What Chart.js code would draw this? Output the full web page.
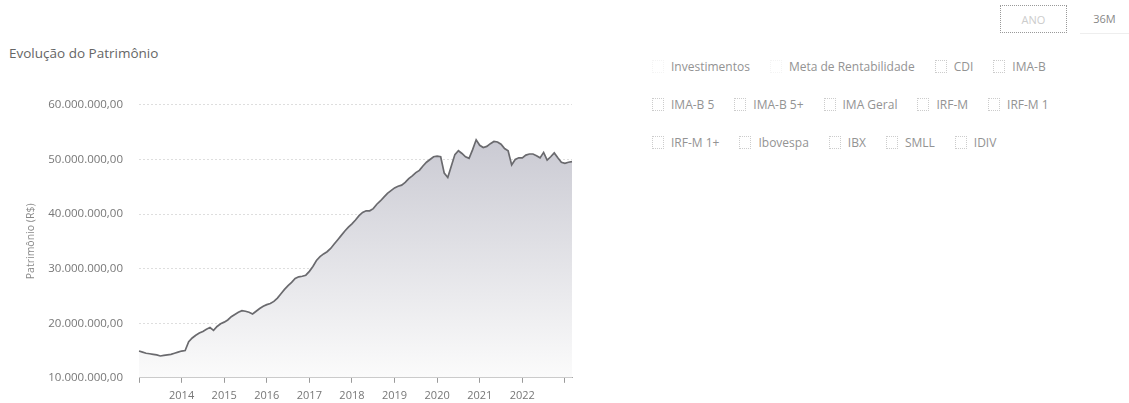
<!DOCTYPE html>
<html lang="pt-BR">
<head>
<meta charset="utf-8">
<title>Evolução do Patrimônio</title>
<script src="https://cdn.jsdelivr.net/npm/chart.js@4.4.1/dist/chart.umd.min.js"></script>
<style>
  html, body { margin: 0; padding: 0; background: #fff; }
  body { width: 1129px; height: 403px; position: relative; overflow: hidden; font-family: "Open Sans", sans-serif; }
  .title { position: absolute; left: 9px; top: 44px; font-size: 13.5px; color: #666; }
  .chart-box { position: absolute; left: 0; top: 82px; width: 590px; height: 328px; }
  .periodo { position: absolute; top: 5px; height: 28px; line-height: 28px; font-size: 11px; text-align: center; }
  .periodo.ano { left: 1000px; width: 67px; border: 1px dotted #999; color: #ccc; box-sizing: border-box; }
  .periodo.m36 { left: 1080px; width: 49px; color: #888; border-bottom: 1px solid #eee; }
  .legend { position: absolute; left: 652px; top: 58px; font-size: 12px; color: #939393; }
  .legend .row { height: 38px; white-space: nowrap; }
  .legend .item { display: inline-block; margin-right: 20px; }
  .legend .box { display: inline-block; width: 10px; height: 11px; border: 1px dotted #ccc; vertical-align: -2px; margin-right: 7px; }
  .legend .box.none { border-color: #f4f4f4; }
</style>
</head>
<body>
<div class="periodo ano">ANO</div>
<div class="periodo m36">36M</div>
<div class="title">Evolução do Patrimônio</div>
<div class="legend" id="legend"></div>
<div class="chart-box"><canvas id="patrimonioChart"></canvas></div>
<script>
// patrimônio mensal, em milhões de R$ (jan..dez)
const years = [2013, 2014, 2015, 2016, 2017, 2018, 2019, 2020, 2021, 2022, 2023];
const monthNames = ['jan', 'fev', 'mar', 'abr', 'mai', 'jun', 'jul', 'ago', 'set', 'out', 'nov', 'dez'];

const p2013 = [14.9, 14.7, 14.5, 14.4, 14.3, 14.2, 14.0, 14.1, 14.2, 14.3, 14.5, 14.7];
const p2014 = [14.9, 15.0, 16.6, 17.3, 17.8, 18.2, 18.5, 18.9, 19.2, 18.7, 19.4, 19.9];
const p2015 = [20.2, 20.6, 21.2, 21.6, 22.0, 22.3, 22.2, 22.0, 21.7, 22.2, 22.7, 23.1];
const p2016 = [23.4, 23.6, 24.0, 24.6, 25.4, 26.2, 26.9, 27.5, 28.2, 28.5, 28.6, 28.8];
const p2017 = [29.5, 30.4, 31.5, 32.2, 32.7, 33.1, 33.7, 34.5, 35.3, 36.1, 36.9, 37.6];
const p2018 = [38.2, 38.9, 39.7, 40.3, 40.6, 40.6, 41.0, 41.8, 42.4, 43.1, 43.8, 44.3];
const p2019 = [44.8, 45.1, 45.3, 45.8, 46.5, 47.0, 47.6, 48.0, 48.8, 49.5, 50.0, 50.5];
const p2020 = [50.6, 50.5, 47.5, 46.7, 48.8, 50.9, 51.6, 51.1, 50.5, 50.2, 51.8, 53.6];
const p2021 = [52.6, 52.2, 52.4, 52.9, 53.3, 53.2, 52.8, 52.0, 51.6, 49.0, 50.0, 50.3];
const p2022 = [50.3, 50.8, 51.0, 51.0, 50.7, 50.3, 51.3, 49.9, 50.5, 51.2, 50.3, 49.5];
const p2023 = [49.3, 49.5, 49.6];

const xTickYears = ['2014', '2015', '2016', '2017', '2018', '2019', '2020', '2021', '2022'];
const yTicks = [10, 20, 30, 40, 50, 60];

const legendRows = [
  ['Investimentos', 'Meta de Rentabilidade', 'CDI', 'IMA-B'],
  ['IMA-B 5', 'IMA-B 5+', 'IMA Geral', 'IRF-M', 'IRF-M 1'],
  ['IRF-M 1+', 'Ibovespa', 'IBX', 'SMLL', 'IDIV']
];
const noBox = ['Investimentos', 'Meta de Rentabilidade'];

// build labels + values
const byYear = [p2013, p2014, p2015, p2016, p2017, p2018, p2019, p2020, p2021, p2022, p2023];
const labels = [];
const values = [];
byYear.forEach((arr, i) => {
  arr.forEach((v, m) => {
    labels.push(monthNames[m] + '/' + years[i]);
    values.push(v);
  });
});

function formatMilhoes(v) {
  // 60 -> 60.000.000,00
  return String(v) + '.000.000,00';
}

// legend (html, like the original page)
const legendEl = document.getElementById('legend');
legendRows.forEach(row => {
  const rowEl = document.createElement('div');
  rowEl.className = 'row';
  row.forEach(name => {
    const item = document.createElement('span');
    item.className = 'item';
    const box = document.createElement('span');
    box.className = noBox.includes(name) ? 'box none' : 'box';
    item.appendChild(box);
    item.appendChild(document.createTextNode(name));
    rowEl.appendChild(item);
  });
  legendEl.appendChild(rowEl);
});

const isJan = (i) => labels[i] && labels[i].startsWith('jan/');

new Chart(document.getElementById('patrimonioChart'), {
  type: 'line',
  data: {
    labels: labels,
    datasets: [{
      label: 'Investimentos',
      data: values,
      borderColor: '#6a6a6e',
      borderWidth: 1.7,
      pointRadius: 0,
      tension: 0,
      fill: 'start',
      backgroundColor: (ctx) => {
        const area = ctx.chart.chartArea;
        if (!area) return 'rgba(200,200,210,0.5)';
        const g = ctx.chart.ctx.createLinearGradient(0, area.top, 0, area.bottom);
        g.addColorStop(0, '#c3c3cd');
        g.addColorStop(1, '#fbfbfb');
        return g;
      }
    }]
  },
  options: {
    responsive: true,
    maintainAspectRatio: false,
    animation: false,
    layout: { padding: { left: 16, right: 18, top: 0, bottom: 2 } },
    plugins: {
      legend: { display: false },
      tooltip: { enabled: false }
    },
    scales: {
      x: {
        type: 'category',
        grid: {
          drawOnChartArea: false,
          tickLength: 5,
          tickColor: (ctx) => isJan(ctx.index) ? '#9a9a9a' : 'transparent'
        },
        border: { display: true, color: '#a8a8a8', dash: [2, 2] },
        ticks: {
          autoSkip: false,
          maxRotation: 0,
          padding: 6,
          color: '#777',
          font: { family: 'Open Sans', size: 11 },
          callback: function (value, index) {
            const lbl = labels[index];
            if (!lbl.startsWith('jan/')) return '';
            const y = lbl.split('/')[1];
            return xTickYears.includes(y) ? y : '';
          }
        }
      },
      y: {
        min: yTicks[0],
        max: yTicks[yTicks.length - 1],
        afterFit: (scale) => { scale.width = 123; },
        afterBuildTicks: (scale) => { scale.ticks = yTicks.map(v => ({ value: v })); },
        grid: { color: '#dedede', drawTicks: false },
        border: { display: false, dash: [2, 2] },
        ticks: {
          padding: 16,
          color: '#777',
          font: { family: 'Open Sans', size: 11.5 },
          callback: (v) => formatMilhoes(v)
        },
        title: {
          display: true,
          text: 'Patrimônio (R$)',
          color: '#888',
          font: { family: 'Open Sans', size: 10.5 },
          padding: { top: 9, bottom: 0 }
        }
      }
    }
  }
});
</script>
</body>
</html>
